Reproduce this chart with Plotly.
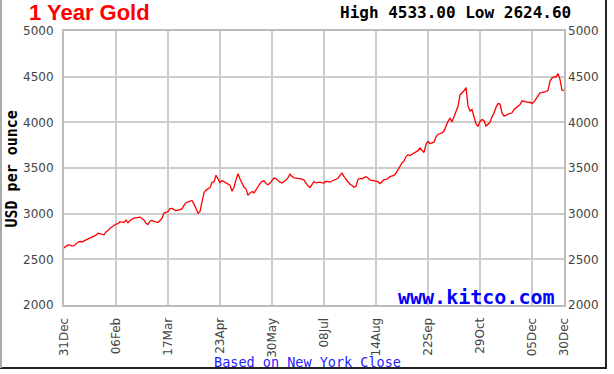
import plotly.graph_objects as go

# Daily New York close, USD per ounce (trading-day index 0..250)
prices = [
    2625, 2645, 2658, 2655, 2648, 2650, 2672, 2690, 2695, 2688,
    2702, 2712, 2718, 2728, 2740, 2750, 2765, 2786, 2778, 2770,
    2768, 2800, 2815, 2840, 2859, 2870, 2885, 2890, 2912, 2905,
    2903, 2930, 2900, 2925, 2940, 2950, 2955, 2958, 2962, 2948,
    2930, 2895, 2880, 2920, 2925, 2915, 2912, 2903, 2925, 2951,
    3006, 3015, 3023, 3055, 3058, 3045, 3034, 3040, 3048, 3052,
    3090, 3120, 3128, 3138, 3144, 3105, 3060, 3006, 3025, 3150,
    3230, 3258, 3270, 3285, 3342, 3350, 3420, 3380, 3340, 3362,
    3350, 3342, 3330, 3312, 3245, 3290, 3370, 3437, 3380, 3330,
    3291, 3272, 3200, 3225, 3243, 3228, 3265, 3305, 3330, 3355,
    3360, 3330, 3316, 3335, 3365, 3390, 3385, 3360, 3345, 3335,
    3350, 3368, 3395, 3433, 3410, 3392, 3390, 3388, 3382, 3378,
    3368, 3330, 3305, 3287, 3325, 3352, 3338, 3340, 3346, 3338,
    3335, 3355, 3352, 3346, 3358, 3368, 3375, 3388, 3420, 3444,
    3405, 3375, 3340, 3322, 3308, 3290, 3300, 3375, 3385, 3382,
    3395, 3405, 3390, 3370, 3365, 3360, 3362, 3350, 3330, 3355,
    3372, 3375, 3385, 3405, 3412, 3418, 3445, 3480, 3530, 3555,
    3575, 3625, 3645, 3636, 3650, 3665, 3675, 3690, 3718, 3695,
    3670, 3760, 3790, 3768, 3772, 3782, 3840, 3868, 3875, 3885,
    3905, 3970, 4010, 4045, 4005, 4060, 4115, 4175, 4300, 4320,
    4345, 4380, 4180, 4125, 4139, 4060, 3985, 3955, 4010, 4030,
    4020, 3960, 3985, 4000, 4060, 4100, 4165, 4205, 4200, 4100,
    4070, 4075, 4090, 4098, 4105, 4140, 4160, 4172, 4195, 4235,
    4230, 4220, 4218, 4220, 4205, 4225, 4256, 4300, 4322, 4325,
    4330, 4338, 4350, 4450, 4485, 4500, 4495, 4533, 4470, 4352,
    4350,
]
days = list(range(len(prices)))

tick_days = [0, 26, 52, 78, 104, 130, 156, 182, 208, 234, 250]
tick_labels = ["31Dec", "06Feb", "17Mar", "23Apr", "30May", "08Jul",
               "14Aug", "22Sep", "29Oct", "05Dec", "30Dec"]
y_ticks = [2000, 2500, 3000, 3500, 4000, 4500, 5000]

title_text = "1 Year Gold"
hilo_text = "High 4533.00 Low 2624.60"

W, H = 614, 374
L, R, T, B = 64, 50, 31, 69
PW, PH = W - L - R, H - T - B


def px(x):
    return (x - L) / PW


def py(y):
    return (H - B - y) / PH


fig = go.Figure()
fig.add_trace(go.Scatter(x=days, y=prices, mode="lines",
                         line=dict(color="#ff0000", width=1.3),
                         hoverinfo="x+y", showlegend=False))
fig.add_trace(go.Scatter(x=days, y=prices, mode="lines", yaxis="y2",
                         line=dict(color="rgba(0,0,0,0)", width=0),
                         hoverinfo="skip", showlegend=False))

tickfont = dict(family="DejaVu Sans", size=12, color="#444444")
fig.update_layout(
    width=W, height=H,
    margin=dict(l=L, r=R, t=T, b=B),
    paper_bgcolor="white", plot_bgcolor="white",
    xaxis=dict(range=[0, 250], tickvals=tick_days, ticktext=tick_labels,
               tickangle=-90, tickfont=tickfont, showgrid=True,
               gridcolor="#cccccc", gridwidth=1.5, showline=True,
               linecolor="#bbbbbb", linewidth=2, mirror=True,
               ticks="", zeroline=False, ticklabelstandoff=6),
    yaxis=dict(range=[2000, 5000], tickvals=y_ticks, tickfont=tickfont,
               showgrid=True, gridcolor="#cccccc", gridwidth=1.5,
               showline=True, linecolor="#bbbbbb", linewidth=2,
               mirror=True, ticks="", zeroline=False,
               ticklabelstandoff=6),
    yaxis2=dict(range=[2000, 5000], tickvals=y_ticks, tickfont=tickfont,
                overlaying="y", side="right", showgrid=False,
                showline=False, ticks="", zeroline=False,
                ticklabelstandoff=3),
)

annotations = [
    dict(text="<b>" + title_text + "</b>", x=px(27), y=py(12),
         xanchor="left", yanchor="middle",
         font=dict(family="Liberation Sans", size=22, color="#ff0000")),
    dict(text="<b>" + hilo_text + "</b>", x=px(573), y=py(13),
         xanchor="right", yanchor="middle",
         font=dict(family="DejaVu Sans Mono", size=16, color="#000000")),
    dict(text="<b>USD per ounce</b>", x=px(11.5), y=py(169), xanchor="center",
         yanchor="middle", textangle=-90,
         font=dict(family="DejaVu Sans Mono", size=15, color="#000000")),
    dict(text="<b>www.kitco.com</b>", x=px(557), y=py(297), xanchor="right",
         yanchor="middle",
         font=dict(family="DejaVu Sans Mono", size=20, color="#0000ff")),
    dict(text="Based on New York Close", x=px(212), y=py(361.5),
         xanchor="left", yanchor="middle",
         font=dict(family="DejaVu Sans Mono", size=13.5, color="#2222ff")),
]
for a in annotations:
    a.update(xref="paper", yref="paper", showarrow=False)
fig.update_layout(annotations=annotations)

fig.update_layout(shapes=[
    dict(type="line", xref="paper", yref="paper", x0=px(606), x1=px(606),
         y0=py(0), y1=py(368), line=dict(color="#222222", width=2)),
    dict(type="line", xref="paper", yref="paper", x0=px(0), x1=px(607),
         y0=py(368), y1=py(368), line=dict(color="#222222", width=2)),
    dict(type="line", xref="paper", yref="paper", x0=px(1), x1=px(1),
         y0=py(0), y1=py(368), line=dict(color="#aaaaaa", width=2)),
])

fig.write_html("out.html",
               config={"displayModeBar": False},
               post_script="document.body.style.margin='0';"
                           "document.body.style.padding='0';")
